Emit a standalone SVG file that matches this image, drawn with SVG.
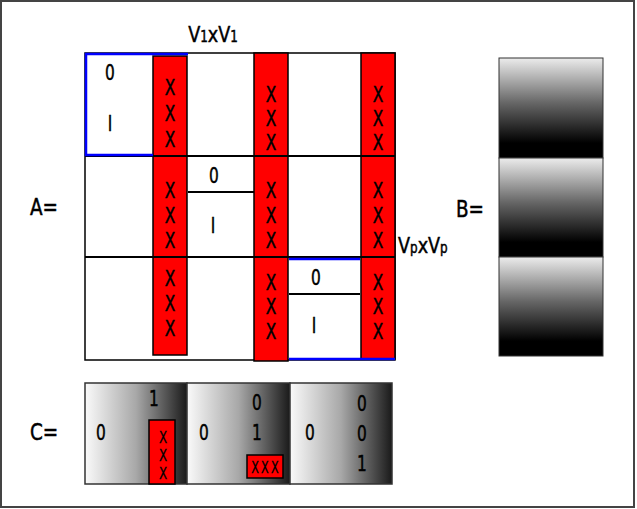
<svg xmlns="http://www.w3.org/2000/svg" width="637" height="509" viewBox="0 0 637 509">
<defs>
<linearGradient id="gv" x1="0" y1="0" x2="0" y2="1">
<stop offset="0" stop-color="#ececec"/>
<stop offset="0.45" stop-color="#666"/>
<stop offset="0.85" stop-color="#000"/>
<stop offset="1" stop-color="#000"/>
</linearGradient>
<linearGradient id="gh" x1="0" y1="0" x2="1" y2="0">
<stop offset="0" stop-color="#fafafa"/>
<stop offset="0.5" stop-color="#a8a8a8"/>
<stop offset="1" stop-color="#1a1a1a"/>
</linearGradient>
<style>
text{font-family:"DejaVu Sans","Liberation Sans",sans-serif;font-size:22px;fill:#000;stroke:#000;stroke-width:0.5;text-anchor:middle}
.lbl{text-anchor:start;font-size:23px}
.sm{font-size:16.5px;stroke-width:0.3}
.xs{font-size:16px;letter-spacing:3px;stroke-width:0.3}
.red{fill:#ff0000;stroke:#000;stroke-width:1.5}
.blk{stroke:#000;stroke-width:2;fill:none}
.blu{stroke:#0000ff;stroke-width:2.5;fill:none}
.sub{font-size:15px}
</style>
</defs>
<rect x="1" y="1" width="633" height="506" fill="#fff" stroke="#444" stroke-width="2"/>
<g id="labels">
<text class="lbl" transform="translate(30 215) scale(0.8 1)">A=</text>
<text class="lbl" transform="translate(456 217) scale(0.8 1)">B=</text>
<text class="lbl" transform="translate(30 440) scale(0.8 1)">C=</text>
<text transform="translate(213 42) scale(0.8 1)">V<tspan class="sub">1</tspan>xV<tspan class="sub">1</tspan></text>
<text class="lbl" style="font-size:22px" transform="translate(398 253) scale(0.8 1)">V<tspan class="sub">p</tspan>xV<tspan class="sub">p</tspan></text>
</g>
<g id="matrixA">
<rect x="85" y="53" width="310" height="307" fill="#fff" stroke="#000" stroke-width="1.5"/>
<rect class="red" x="153" y="56" width="34" height="299"/>
<rect class="red" x="254" y="53" width="34" height="308"/>
<rect class="red" x="361" y="53" width="34" height="306"/>
<line class="blk" x1="85" y1="156" x2="395" y2="156"/>
<line class="blk" x1="85" y1="257" x2="395" y2="257"/>
<line class="blk" x1="188" y1="192" x2="254" y2="192"/>
<line class="blk" x1="289" y1="294" x2="360" y2="294"/>
<path class="blu" d="M188 54 H86 V155 H153"/>
<path class="blu" d="M289 259 H360 M289 359 H395"/>
<text transform="translate(110 80) scale(0.7 1)">0</text>
<text transform="translate(110 131) scale(0.7 1)">I</text>
<text transform="translate(214 183) scale(0.7 1)">0</text>
<text transform="translate(213 233) scale(0.7 1)">I</text>
<text transform="translate(316 285) scale(0.7 1)">0</text>
<text transform="translate(314 333) scale(0.7 1)">I</text>
<g id="xs">
<text transform="translate(170 95) scale(0.7 1)">X</text><text transform="translate(170 121) scale(0.7 1)">X</text><text transform="translate(170 147) scale(0.7 1)">X</text>
<text transform="translate(170 198) scale(0.7 1)">X</text><text transform="translate(170 223) scale(0.7 1)">X</text><text transform="translate(170 248) scale(0.7 1)">X</text>
<text transform="translate(170 286) scale(0.7 1)">X</text><text transform="translate(170 311) scale(0.7 1)">X</text><text transform="translate(170 336) scale(0.7 1)">X</text>
<text transform="translate(271 102) scale(0.7 1)">X</text><text transform="translate(271 126) scale(0.7 1)">X</text><text transform="translate(271 150) scale(0.7 1)">X</text>
<text transform="translate(271 198) scale(0.7 1)">X</text><text transform="translate(271 223) scale(0.7 1)">X</text><text transform="translate(271 248) scale(0.7 1)">X</text>
<text transform="translate(271 290) scale(0.7 1)">X</text><text transform="translate(271 314) scale(0.7 1)">X</text><text transform="translate(271 339) scale(0.7 1)">X</text>
<text transform="translate(378 102) scale(0.7 1)">X</text><text transform="translate(378 126) scale(0.7 1)">X</text><text transform="translate(378 150) scale(0.7 1)">X</text>
<text transform="translate(378 198) scale(0.7 1)">X</text><text transform="translate(378 223) scale(0.7 1)">X</text><text transform="translate(378 248) scale(0.7 1)">X</text>
<text transform="translate(378 290) scale(0.7 1)">X</text><text transform="translate(378 314) scale(0.7 1)">X</text><text transform="translate(378 339) scale(0.7 1)">X</text>
</g>
</g>
<g id="matrixB">
<rect x="499" y="58" width="104" height="100" fill="url(#gv)" stroke="#333" stroke-width="1"/>
<rect x="499" y="158" width="104" height="99" fill="url(#gv)" stroke="#333" stroke-width="1"/>
<rect x="499" y="257" width="104" height="99" fill="url(#gv)" stroke="#333" stroke-width="1"/>
</g>
<g id="matrixC">
<rect x="85" y="383" width="102" height="101" fill="url(#gh)" stroke="#333" stroke-width="1.5"/>
<rect x="187" y="383" width="103" height="101" fill="url(#gh)" stroke="#333" stroke-width="1.5"/>
<rect x="290" y="383" width="102" height="101" fill="url(#gh)" stroke="#333" stroke-width="1.5"/>
<rect class="red" x="149" y="420" width="26" height="64"/>
<rect class="red" x="247" y="455" width="36" height="23"/>
<text transform="translate(101 440) scale(0.7 1)">0</text>
<text transform="translate(154 406) scale(0.7 1)">1</text>
<text class="sm" transform="translate(163 443) scale(0.72 1)">X</text>
<text class="sm" transform="translate(163 461) scale(0.72 1)">X</text>
<text class="sm" transform="translate(163 479) scale(0.72 1)">X</text>
<text transform="translate(204 440) scale(0.7 1)">0</text>
<text transform="translate(257 410) scale(0.7 1)">0</text>
<text transform="translate(257 440) scale(0.7 1)">1</text>
<text class="xs" transform="translate(266 473) scale(0.7 1)">XXX</text>
<text transform="translate(310 440) scale(0.7 1)">0</text>
<text transform="translate(362 411) scale(0.7 1)">0</text>
<text transform="translate(362 441) scale(0.7 1)">0</text>
<text transform="translate(362 471) scale(0.7 1)">1</text>
</g>
</svg>
